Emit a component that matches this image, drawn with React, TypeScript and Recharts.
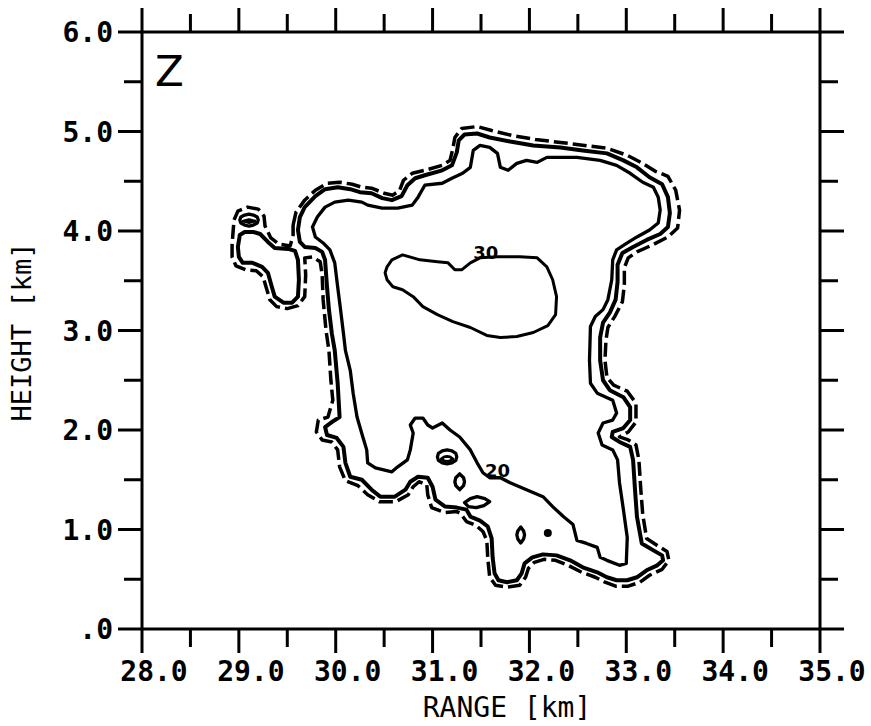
import React from 'react';
import { ScatterChart, Scatter, XAxis, YAxis } from 'recharts';

// ---- axis ticks ----
const xTicks = [28, 28.5, 29, 29.5, 30, 30.5, 31, 31.5, 32, 32.5, 33, 33.5, 34, 34.5, 35];
const xTickLabels = ['28.0', '29.0', '30.0', '31.0', '32.0', '33.0', '34.0', '35.0'];
const yTicks = [0, 0.5, 1, 1.5, 2, 2.5, 3, 3.5, 4, 4.5, 5, 5.5, 6];
const yTickLabels = ['.0', '1.0', '2.0', '3.0', '4.0', '5.0', '6.0'];

// ---- contours: [range km, height km] ----
const dashedContour: [number, number][] = [
  [29.56,4.06],[29.59,4.19],[29.68,4.31],[29.79,4.41],[29.91,4.48],[30.04,4.49],[30.17,4.47],[30.27,4.44],[30.37,4.43],[30.50,4.38],[30.59,4.36],[30.66,4.41],[30.70,4.51],[30.79,4.58],[30.92,4.61],[31.10,4.66],[31.18,4.71],[31.21,4.83],[31.23,4.94],[31.30,5.03],[31.46,5.05],[31.61,5.01],[31.82,4.96],[32.06,4.92],[32.32,4.89],[32.57,4.86],[32.81,4.83],[33.01,4.76],[33.15,4.69],[33.30,4.60],[33.43,4.55],[33.51,4.41],[33.55,4.21],[33.53,4.03],[33.43,3.94],[33.27,3.86],[33.11,3.79],[33.02,3.73],[32.98,3.63],[32.98,3.46],[32.96,3.29],[32.88,3.14],[32.81,3.03],[32.79,2.90],[32.78,2.70],[32.80,2.53],[32.87,2.45],[33.01,2.39],[33.10,2.27],[33.10,2.08],[33.02,1.98],[32.93,1.93],[33.02,1.90],[33.10,1.85],[33.13,1.70],[33.15,1.40],[33.17,1.15],[33.21,0.91],[33.32,0.84],[33.42,0.78],[33.44,0.69],[33.37,0.60],[33.24,0.54],[33.14,0.47],[33.02,0.43],[32.89,0.43],[32.78,0.47],[32.68,0.52],[32.54,0.57],[32.40,0.64],[32.27,0.69],[32.15,0.70],[32.05,0.67],[31.99,0.61],[31.96,0.52],[31.90,0.44],[31.77,0.42],[31.65,0.44],[31.59,0.52],[31.57,0.71],[31.56,0.89],[31.52,0.98],[31.45,1.04],[31.35,1.08],[31.29,1.16],[31.25,1.18],[31.13,1.17],[30.99,1.22],[30.95,1.35],[30.94,1.45],[30.86,1.48],[30.80,1.43],[30.75,1.35],[30.62,1.28],[30.45,1.28],[30.33,1.35],[30.23,1.44],[30.10,1.49],[30.04,1.63],[30.02,1.80],[29.96,1.88],[29.86,1.90],[29.80,1.98],[29.82,2.10],[29.92,2.13],[29.97,2.30],[29.95,2.50],[29.93,2.80],[29.90,3.00],[29.87,3.31],[29.86,3.56],[29.84,3.69],[29.76,3.74],[29.68,3.73],[29.69,3.56],[29.68,3.34],[29.61,3.25],[29.50,3.22],[29.39,3.24],[29.32,3.31],[29.28,3.44],[29.25,3.54],[29.18,3.60],[29.07,3.61],[28.97,3.65],[28.93,3.74],[28.93,3.86],[28.94,3.99],[28.95,4.11],[28.99,4.20],[29.09,4.24],[29.20,4.22],[29.26,4.15],[29.27,4.05],[29.33,3.93],[29.41,3.87],[29.53,3.85],[29.56,3.96],[29.56,4.06],
];

const contour10Main: [number, number][] = [
  [29.63,4.14],[29.68,4.24],[29.79,4.35],[29.89,4.42],[30.02,4.44],[30.15,4.42],[30.25,4.39],[30.37,4.38],[30.48,4.33],[30.58,4.31],[30.68,4.35],[30.74,4.46],[30.82,4.53],[30.92,4.56],[31.10,4.61],[31.20,4.66],[31.25,4.79],[31.27,4.91],[31.33,4.97],[31.46,4.98],[31.59,4.94],[31.80,4.90],[32.04,4.86],[32.32,4.84],[32.55,4.81],[32.80,4.78],[32.97,4.71],[33.11,4.64],[33.24,4.54],[33.37,4.47],[33.43,4.34],[33.45,4.18],[33.43,4.04],[33.35,3.97],[33.21,3.91],[33.07,3.84],[32.96,3.78],[32.91,3.66],[32.91,3.49],[32.89,3.31],[32.83,3.18],[32.76,3.08],[32.73,2.93],[32.73,2.70],[32.76,2.50],[32.83,2.40],[32.97,2.33],[33.04,2.23],[33.04,2.10],[32.97,2.02],[32.86,1.98],[32.85,1.93],[32.93,1.88],[33.04,1.83],[33.07,1.70],[33.09,1.40],[33.11,1.13],[33.16,0.86],[33.28,0.79],[33.37,0.74],[33.38,0.69],[33.32,0.64],[33.21,0.59],[33.11,0.52],[33.01,0.49],[32.90,0.49],[32.80,0.52],[32.70,0.57],[32.55,0.62],[32.42,0.69],[32.28,0.74],[32.14,0.75],[32.03,0.72],[31.95,0.66],[31.92,0.56],[31.87,0.49],[31.77,0.47],[31.68,0.49],[31.64,0.56],[31.62,0.72],[31.61,0.91],[31.57,1.03],[31.49,1.09],[31.39,1.13],[31.35,1.20],[31.25,1.22],[31.13,1.23],[31.03,1.30],[31.00,1.43],[30.95,1.52],[30.85,1.53],[30.77,1.48],[30.72,1.40],[30.61,1.33],[30.46,1.33],[30.37,1.40],[30.27,1.50],[30.15,1.53],[30.10,1.67],[30.08,1.83],[30.01,1.92],[29.91,1.95],[29.89,2.03],[29.96,2.08],[30.04,2.13],[30.02,2.47],[29.99,2.80],[29.96,2.97],[29.93,3.21],[29.91,3.44],[29.89,3.71],[29.86,3.79],[29.79,3.83],[29.68,3.84],[29.63,3.89],[29.61,4.01],[29.63,4.14],
];

const contour10Lobe: [number, number][] = [
  [29.01,3.96],[29.06,3.99],[29.15,3.99],[29.22,3.97],[29.30,3.89],[29.37,3.83],[29.51,3.82],[29.58,3.80],[29.61,3.71],[29.62,3.51],[29.61,3.34],[29.55,3.28],[29.46,3.28],[29.37,3.34],[29.34,3.44],[29.30,3.58],[29.24,3.64],[29.14,3.68],[29.04,3.68],[29.00,3.74],[28.99,3.84],[29.01,3.96],
];

const contour20: [number, number][] = [
  [29.76,4.04],[29.81,4.14],[29.89,4.24],[29.99,4.29],[30.13,4.31],[30.27,4.29],[30.33,4.26],[30.48,4.23],[30.64,4.23],[30.79,4.26],[30.85,4.34],[30.92,4.46],[31.10,4.48],[31.20,4.53],[31.31,4.58],[31.39,4.64],[31.42,4.81],[31.49,4.86],[31.59,4.84],[31.67,4.78],[31.70,4.64],[31.78,4.61],[31.87,4.68],[31.97,4.71],[32.08,4.69],[32.18,4.74],[32.32,4.74],[32.49,4.74],[32.73,4.71],[32.90,4.66],[33.04,4.58],[33.17,4.49],[33.28,4.44],[33.33,4.34],[33.35,4.21],[33.33,4.08],[33.24,4.01],[33.11,3.94],[33.01,3.88],[32.90,3.81],[32.86,3.71],[32.85,3.51],[32.81,3.31],[32.76,3.21],[32.68,3.14],[32.63,3.04],[32.62,2.70],[32.63,2.47],[32.70,2.37],[32.86,2.30],[32.90,2.17],[32.86,2.10],[32.76,2.07],[32.71,1.97],[32.75,1.85],[32.86,1.80],[32.91,1.70],[32.93,1.47],[32.97,1.20],[33.01,0.92],[33.00,0.66],[32.93,0.64],[32.80,0.69],[32.73,0.72],[32.70,0.82],[32.59,0.86],[32.49,0.89],[32.45,1.05],[32.35,1.13],[32.24,1.23],[32.14,1.33],[31.97,1.40],[31.80,1.47],[31.70,1.52],[31.59,1.52],[31.52,1.57],[31.46,1.67],[31.39,1.80],[31.28,1.93],[31.18,2.00],[31.10,2.07],[31.00,2.02],[30.95,2.05],[30.90,2.12],[30.82,2.12],[30.77,2.05],[30.80,1.97],[30.77,1.80],[30.74,1.70],[30.64,1.63],[30.58,1.58],[30.41,1.62],[30.33,1.67],[30.32,1.80],[30.28,1.93],[30.22,2.13],[30.18,2.37],[30.15,2.60],[30.10,2.80],[30.08,2.97],[30.05,3.21],[30.02,3.44],[29.99,3.68],[29.94,3.81],[29.87,3.88],[29.79,3.94],[29.76,4.04],
];

const contour30: [number, number][] = [
  [30.53,3.64],[30.58,3.71],[30.69,3.76],[30.87,3.71],[31.05,3.69],[31.16,3.68],[31.23,3.61],[31.30,3.61],[31.39,3.68],[31.49,3.73],[31.67,3.74],[31.90,3.74],[32.08,3.73],[32.18,3.64],[32.24,3.51],[32.28,3.34],[32.27,3.16],[32.19,3.05],[32.04,2.98],[31.87,2.94],[31.70,2.93],[31.56,2.95],[31.39,3.03],[31.21,3.09],[31.05,3.16],[30.90,3.24],[30.80,3.34],[30.69,3.41],[30.59,3.44],[30.53,3.51],[30.51,3.58],[30.53,3.64],
];

// small closed cells
const cellLobeTop: [number, number][] = [
  [29.20,4.11],[29.19,4.14],[29.15,4.16],[29.105,4.17],[29.06,4.16],[29.02,4.14],[29.01,4.11],[29.02,4.08],[29.06,4.06],[29.105,4.05],[29.15,4.06],[29.19,4.08],[29.20,4.11],
];
const cellLobeTopInner: [number, number][] = [
  [29.165,4.10],[29.105,4.115],[29.045,4.10],[29.105,4.085],[29.165,4.10],
];
const cellA: [number, number][] = [
  [31.25,1.73],[31.24,1.765],[31.20,1.79],[31.15,1.80],[31.10,1.79],[31.06,1.765],[31.05,1.73],[31.06,1.695],[31.10,1.67],[31.15,1.66],[31.20,1.67],[31.24,1.695],[31.25,1.73],
];
const cellAInner: [number, number][] = [
  [31.21,1.71],[31.18,1.73],[31.15,1.735],[31.12,1.73],[31.09,1.71],[31.12,1.69],[31.15,1.685],[31.18,1.69],[31.21,1.71],
];
const cellB: [number, number][] = [
  [31.33,1.48],[31.32,1.52],[31.28,1.56],[31.24,1.52],[31.23,1.48],[31.24,1.44],[31.28,1.40],[31.32,1.44],[31.33,1.48],
];
const cellC: [number, number][] = [
  [31.33,1.27],[31.39,1.31],[31.46,1.33],[31.54,1.31],[31.59,1.28],[31.53,1.24],[31.45,1.22],[31.37,1.23],[31.33,1.27],
];
const cellD: [number, number][] = [
  [31.95,0.945],[31.94,0.985],[31.91,1.025],[31.88,0.985],[31.87,0.945],[31.88,0.905],[31.91,0.865],[31.94,0.905],[31.95,0.945],
];
const cellDot: [number, number][] = [[32.19, 0.965]];

const contourLabels = [
  { x: 31.55, y: 3.78, text: '30' },
  { x: 31.67, y: 1.59, text: '20' },
];

// ---- helpers ----
const toPts = (a: [number, number][]) => a.map(([x, y]) => ({ x, y }));
const MONO = "'DejaVu Sans Mono', monospace";
const MAJOR = 24;
const MINOR = 18;
const isMajor = (v: number) => Math.abs(v - Math.round(v)) < 1e-6;

const BottomTick = (p: any) => {
  const { x, y, payload } = p;
  const v = payload.value;
  const major = isMajor(v);
  return (
    <g>
      <line x1={x} x2={x} y1={y} y2={y + (major ? MAJOR : MINOR)} stroke="#000" strokeWidth={3} />
      {major && (
        <text x={x + 12} y={y + 52} textAnchor="middle" fontFamily={MONO} fontWeight="bold" fontSize={28} fill="#000">
          {xTickLabels[Math.round(v) - 28]}
        </text>
      )}
    </g>
  );
};
const TopTick = (p: any) => {
  const { x, y, payload } = p;
  const major = isMajor(payload.value);
  return <line x1={x} x2={x} y1={y} y2={y - (major ? MAJOR : MINOR)} stroke="#000" strokeWidth={3} />;
};
const LeftTick = (p: any) => {
  const { x, y, payload } = p;
  const v = payload.value;
  const major = isMajor(v);
  return (
    <g>
      <line x1={x - (major ? MAJOR : MINOR)} x2={x} y1={y} y2={y} stroke="#000" strokeWidth={3} />
      {major && (
        <text x={x - 29} y={y + 10} textAnchor="end" fontFamily={MONO} fontWeight="bold" fontSize={28} fill="#000">
          {yTickLabels[Math.round(v)]}
        </text>
      )}
    </g>
  );
};
const RightTick = (p: any) => {
  const { x, y, payload } = p;
  const major = isMajor(payload.value);
  return <line x1={x} x2={x + (major ? MAJOR : MINOR)} y1={y} y2={y} stroke="#000" strokeWidth={3} />;
};

const noShape = () => <g />;
const dotShape = (p: any) => <circle cx={p.cx} cy={p.cy} r={4} fill="#000" />;
const labelShape = (p: any) => (
  <text x={p.cx} y={p.cy} textAnchor="middle" dominantBaseline="central" fontFamily="'DejaVu Sans', sans-serif" fontWeight="bold" fontSize={18} fill="#000">
    {p.payload.text}
  </text>
);

const lineStyle = (w: number, dash?: string) => ({
  stroke: '#000',
  strokeWidth: w,
  fill: 'none',
  strokeLinejoin: 'round',
  strokeLinecap: dash ? 'butt' : 'round',
  ...(dash ? { strokeDasharray: dash } : {}),
});

const series: { key: string; pts: [number, number][]; w: number; dash?: string }[] = [
  { key: 'dashed', pts: dashedContour, w: 3.5, dash: '14 5' },
  { key: 'c10main', pts: contour10Main, w: 4 },
  { key: 'c10lobe', pts: contour10Lobe, w: 4 },
  { key: 'c20', pts: contour20, w: 3.3 },
  { key: 'c30', pts: contour30, w: 3 },
  { key: 'lobeTop', pts: cellLobeTop, w: 3.3 },
  { key: 'lobeTopIn', pts: cellLobeTopInner, w: 2.8 },
  { key: 'cellA', pts: cellA, w: 3.3 },
  { key: 'cellAIn', pts: cellAInner, w: 2.8 },
  { key: 'cellB', pts: cellB, w: 3.3 },
  { key: 'cellC', pts: cellC, w: 3.3 },
  { key: 'cellD', pts: cellD, w: 3.3 },
];

const axisLine = { stroke: '#000', strokeWidth: 3 };

export default function App() {
  return (
    <div style={{ position: 'relative', width: 871, height: 726, background: '#fff' }}>
      <style>{'body{margin:0;background:#fff}'}</style>
      <ScatterChart width={871} height={726} margin={{ top: 0, right: 0, bottom: 0, left: 0 }}>
        <XAxis xAxisId="bottom" orientation="bottom" dataKey="x" type="number" domain={[28, 35]} ticks={xTicks} interval={0}
          height={97} axisLine={axisLine} tickLine={false} tickSize={0} tickMargin={0} tick={BottomTick} allowDataOverflow />
        <XAxis xAxisId="top" orientation="top" dataKey="x" type="number" domain={[28, 35]} ticks={xTicks} interval={0}
          height={32} axisLine={axisLine} tickLine={false} tickSize={0} tickMargin={0} tick={TopTick} allowDataOverflow />
        <YAxis yAxisId="left" orientation="left" dataKey="y" type="number" domain={[0, 6]} ticks={yTicks} interval={0}
          width={142} axisLine={axisLine} tickLine={false} tickSize={0} tickMargin={0} tick={LeftTick} allowDataOverflow />
        <YAxis yAxisId="right" orientation="right" dataKey="y" type="number" domain={[0, 6]} ticks={yTicks} interval={0}
          width={51} axisLine={axisLine} tickLine={false} tickSize={0} tickMargin={0} tick={RightTick} allowDataOverflow />
        {series.map((s) => (
          <Scatter key={s.key} xAxisId="bottom" yAxisId="left" data={toPts(s.pts)} line={lineStyle(s.w, s.dash)}
            lineType="joint" lineJointType="linear" shape={noShape} isAnimationActive={false} legendType="none" />
        ))}
        <Scatter xAxisId="bottom" yAxisId="left" data={toPts(cellDot)} shape={dotShape} isAnimationActive={false} legendType="none" />
        <Scatter xAxisId="bottom" yAxisId="left" data={contourLabels} shape={labelShape} isAnimationActive={false} legendType="none" />
      </ScatterChart>
      <svg width={871} height={726} style={{ position: 'absolute', left: 0, top: 0, pointerEvents: 'none' }}>
        <text x={155} y={86} fontFamily="'DejaVu Sans', sans-serif" fontSize={42} fill="#000">Z</text>
        <text x={507} y={717} textAnchor="middle" fontFamily={MONO} fontSize={28} fill="#000">RANGE [km]</text>
        <text x={31} y={332} textAnchor="middle" transform="rotate(-90 31 332)" fontFamily={MONO} fontSize={27} fill="#000">HEIGHT [km]</text>
      </svg>
    </div>
  );
}
